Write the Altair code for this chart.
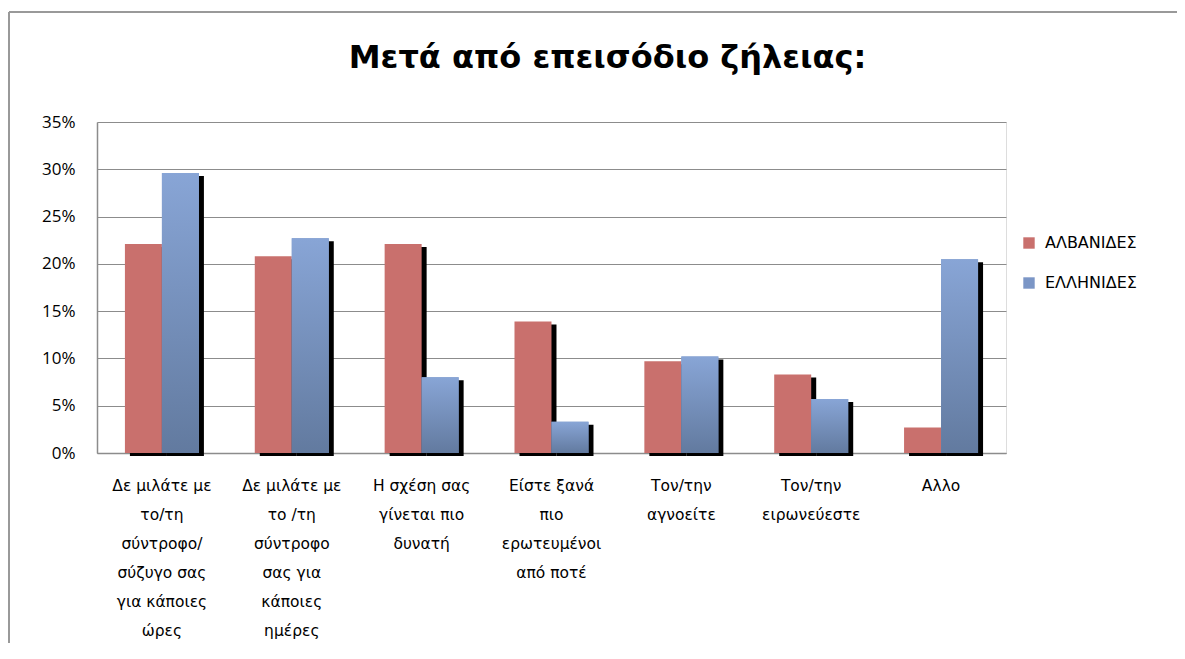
import altair as alt
import pandas as pd

categories = [
    "Δε μιλάτε με|το/τη|σύντροφο/|σύζυγο σας|για κάποιες|ώρες",
    "Δε μιλάτε με|το /τη|σύντροφο|σας για|κάποιες|ημέρες",
    "Η σχέση σας|γίνεται πιο|δυνατή",
    "Είστε ξανά|πιο|ερωτευμένοι|από ποτέ",
    "Τον/την|αγνοείτε",
    "Τον/την|ειρωνεύεστε",
    "Αλλο",
]
series = ["ΑΛΒΑΝΙΔΕΣ", "ΕΛΛΗΝΙΔΕΣ"]
albanides = [0.221, 0.208, 0.221, 0.139, 0.097, 0.083, 0.027]
ellinides = [0.296, 0.227, 0.080, 0.033, 0.102, 0.057, 0.205]
y_ticks = [0, 0.05, 0.10, 0.15, 0.20, 0.25, 0.30, 0.35]

rows = []
for c, a, e in zip(categories, albanides, ellinides):
    rows.append({"cat": c, "series": series[0], "value": a})
    rows.append({"cat": c, "series": series[1], "value": e})
df = pd.DataFrame(rows)

RED = "#C9706D"
BLUE = "#7B96C6"
FONT = "Open Sans"
WIDE = "DejaVu Sans"

x_enc = alt.X(
    "cat:N", sort=categories,
    scale=alt.Scale(paddingInner=0.43, paddingOuter=0.215),
    axis=alt.Axis(title=None, labelExpr="split(datum.label, '|')", labelAngle=0,
                  labelFontSize=15.5, labelFont=WIDE, labelColor="black",
                  labelLineHeight=29, labelPadding=25, labelBaseline="top",
                  ticks=False, domainColor="#8c8c8c", domainWidth=1.5, grid=False),
)
y_enc = alt.Y(
    "value:Q", scale=alt.Scale(domain=[0, 0.35], nice=False),
    axis=alt.Axis(title=None, format=".0%", values=y_ticks, labelFontSize=17,
                  labelFont=FONT, labelColor="black", labelPadding=22, ticks=False,
                  domainColor="#8c8c8c", domainWidth=1.5, grid=True,
                  gridColor="#8c8c8c", gridWidth=1),
)

base = alt.Chart(df).encode(x=x_enc, y=y_enc)

# shadow: same bars shifted 5px right and 3px down at the top
shadow = base.mark_bar(color="black", yOffset=3, y2Offset=0).encode(
    xOffset=alt.XOffset("series:N", sort=series,
                        scale=alt.Scale(domain=series, range=[5, 79],
                                        paddingInner=0, paddingOuter=0))
)

xoff_enc = alt.XOffset("series:N", sort=series,
                       scale=alt.Scale(domain=series, range=[0, 74],
                                       paddingInner=0, paddingOuter=0))

bars = base.mark_bar().encode(
    xOffset=xoff_enc,
    color=alt.Color(
        "series:N", sort=series,
        scale=alt.Scale(domain=series, range=[RED, BLUE]),
        legend=alt.Legend(title=None, orient="none", legendX=924, legendY=113,
                          symbolType="square", symbolSize=130, symbolStrokeWidth=0,
                          labelFontSize=16, labelFont=WIDE, labelColor="black",
                          rowPadding=24, labelOffset=8),
    )
)

grad = alt.LinearGradient(
    gradient="linear",
    stops=[alt.GradientStop(color="#88A5D6", offset=0),
           alt.GradientStop(color="#627A9F", offset=1)],
    x1=0, x2=0, y1=0, y2=1,
)
blue_bars = base.transform_filter(alt.datum.series == series[1]).mark_bar(fill=grad).encode(
    xOffset=xoff_enc
)

frame_df = pd.DataFrame({"k": [0]})
frame_top = alt.Chart(frame_df).mark_rule(color="#999999", strokeWidth=2).encode(
    x=alt.value(-88), x2=alt.value(1100), y=alt.value(-110)
)
frame_left = alt.Chart(frame_df).mark_rule(color="#999999", strokeWidth=2).encode(
    x=alt.value(-88), y=alt.value(-110), y2=alt.value(560)
)

chart = alt.layer(shadow, bars, blue_bars, frame_top, frame_left).resolve_scale(
    xOffset="independent"
).properties(
    width=909, height=331,
    autosize=alt.AutoSizeParams(type="none"),
    padding={"left": 89, "top": 114, "right": 171, "bottom": 190},
    title=alt.TitleParams(
        "Μετά από επεισόδιο ζήλειας:", fontSize=32, fontWeight="bold", font=WIDE,
        anchor="middle", frame="group", dx=56, offset=-89, baseline="alphabetic",
        color="black",
    ),
).configure_view(stroke=None).configure(background="white")

chart.save("out.html", embed_options={"renderer": "svg", "actions": False})
